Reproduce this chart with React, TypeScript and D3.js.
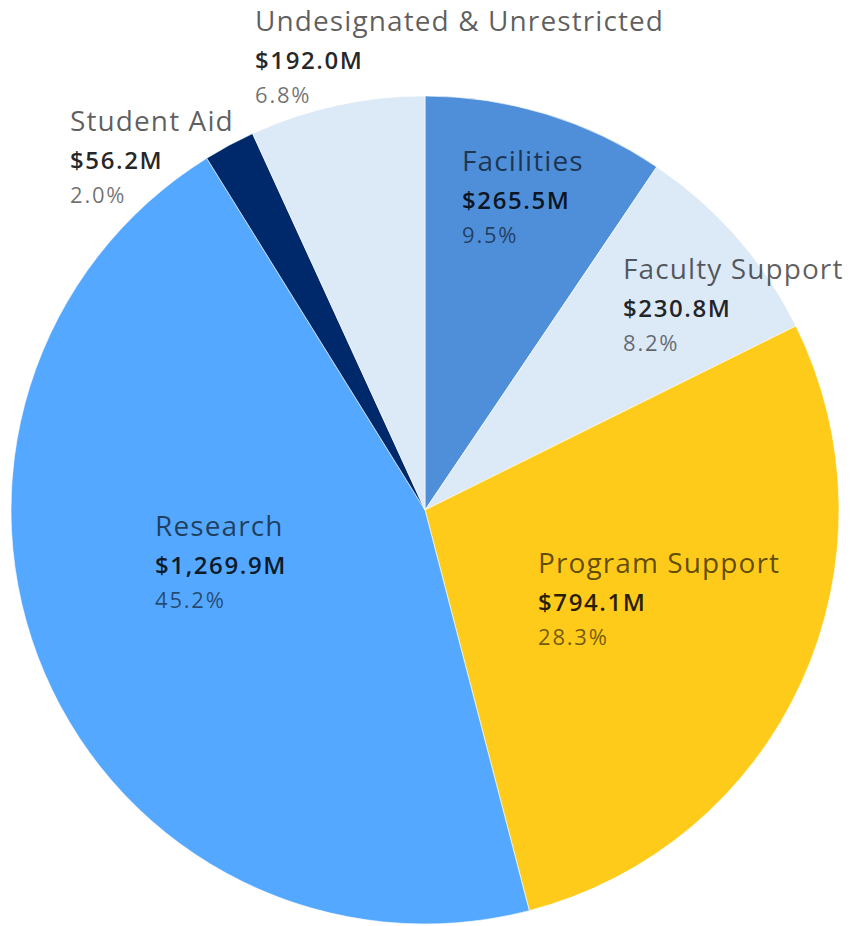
import React from "react";
import * as d3 from "d3";

const categories = ["Facilities", "Faculty Support", "Program Support", "Research", "Student Aid", "Undesignated & Unrestricted"];
const values = [265.5, 230.8, 794.1, 1269.9, 56.2, 192.0];
const valueLabels = ["$265.5M", "$230.8M", "$794.1M", "$1,269.9M", "$56.2M", "$192.0M"];
const percentLabels = ["9.5%", "8.2%", "28.3%", "45.2%", "2.0%", "6.8%"];
const colors = ["#4F8ED8", "#DCE9F6", "#FFCB1A", "#55A8FF", "#00296B", "#DCE9F6"];
// label anchor positions (left x, name baseline y)
const labelPos: [number, number][] = [
  [462, 171],
  [623, 279],
  [538, 573],
  [155, 536],
  [70, 131],
  [255, 31],
];

const W = 850;
const H = 926;
const cx = 425;
const cy = 510;
const R = 414;

export default function App() {
  const pie = d3.pie<number>().sort(null).value((d) => d);
  const arcs = pie(values);
  const arc = d3.arc<d3.PieArcDatum<number>>().innerRadius(0).outerRadius(R);
  const font = "'Open Sans', 'Noto Sans', sans-serif";
  return (
    <svg width={W} height={H} style={{ position: "absolute", left: 0, top: 0, background: "#fff" }}>
      <g transform={`translate(${cx},${cy})`}>
        {arcs.map((a, i) => (
          <path key={i} d={arc(a) || ""} fill={colors[i]} stroke="#ffffff" strokeWidth={0.6} />
        ))}
      </g>
      {categories.map((c, i) => {
        const [x, y] = labelPos[i];
        return (
          <g key={c} fontFamily={font}>
            <text x={x} y={y} fontSize={28} letterSpacing={1.1} fill="#000" fillOpacity={0.64} fontWeight={400}>
              {c}
            </text>
            <text x={x} y={y + 38} fontSize={24} letterSpacing={1.6} fill="#000" fillOpacity={0.86} fontWeight={600}>
              {valueLabels[i]}
            </text>
            <text x={x} y={y + 72} fontSize={22} letterSpacing={1.8} fill="#000" fillOpacity={0.56} fontWeight={400}>
              {percentLabels[i]}
            </text>
          </g>
        );
      })}
    </svg>
  );
}
